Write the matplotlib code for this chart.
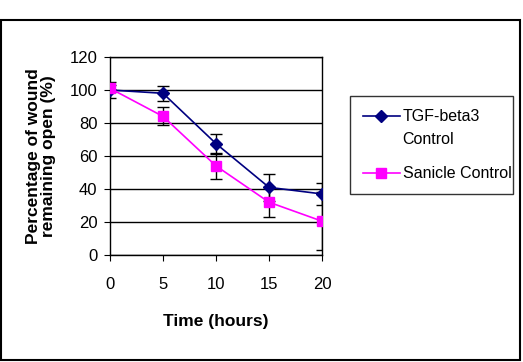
import numpy as np
import matplotlib.pyplot as plt
from matplotlib.patches import Rectangle
from matplotlib.lines import Line2D
from matplotlib.legend_handler import HandlerLine2D
from matplotlib.transforms import Affine2D

plt.rcParams['font.family'] = ['Liberation Sans', 'DejaVu Sans']

# --- data ---
time_h = [0, 5, 10, 15, 20]
tgf_vals = [100, 98, 67.5, 41, 37]
tgf_err = [5, 4.5, 6, 8, 6.5]
sanicle_vals = [101, 84, 54, 32, 20.5]
sanicle_err = [2, 5.5, 8, 9, 17.5]
y_ticks = [0, 20, 40, 60, 80, 100, 120]


class RaisedLine(HandlerLine2D):
    # puts the handle level with the first line of a two-line label
    def __init__(self, dy, **kw):
        super().__init__(**kw)
        self.dy = dy

    def create_artists(self, legend, orig_handle, xdescent, ydescent,
                       width, height, fontsize, trans):
        trans = Affine2D().translate(0, self.dy) + trans
        return super().create_artists(legend, orig_handle, xdescent, ydescent,
                                      width, height, fontsize, trans)


W, H = 523, 362
fig = plt.figure(figsize=(W / 100, H / 100), dpi=100)
ax = fig.add_axes([110/W, 1 - 255/H, 212/W, 198/H])

ax.errorbar(time_h, tgf_vals, yerr=tgf_err, color='#000080', marker='D',
            markersize=6, linewidth=1.2, ecolor='black', elinewidth=1,
            capsize=4, capthick=1, zorder=3)
ax.errorbar(time_h, sanicle_vals, yerr=sanicle_err, color='#ff00ff', marker='s',
            markersize=7, linewidth=1.2, ecolor='black', elinewidth=1,
            capsize=4, capthick=1, zorder=3)

ax.set_xlim(0, 20)
ax.set_ylim(0, 120)
ax.set_xticks(time_h)
ax.set_yticks(y_ticks)
ax.yaxis.grid(True, color='black', linewidth=1)
ax.set_axisbelow(True)
ax.tick_params(labelsize=12, direction='out', length=4, color='black')
ax.tick_params(axis='x', pad=12)
ax.tick_params(axis='y', pad=5)
for s in ax.spines.values():
    s.set_color('black')
    s.set_linewidth(1)

ax.set_xlabel('Time (hours)', fontsize=12.5, fontweight='bold', labelpad=16)
ax.set_ylabel('Percentage of wound\nremaining open (%)', fontsize=12.5,
              fontweight='bold', labelpad=10, linespacing=1.0)

tgf_handle = Line2D([], [], color='#000080', marker='D', markersize=6, linewidth=1.2)
san_handle = Line2D([], [], color='#ff00ff', marker='s', markersize=7, linewidth=1.2)
labels = ['TGF-beta3\nControl', 'Sanicle Control']
leg = fig.legend([tgf_handle, san_handle], labels, loc='upper left',
                 bbox_to_anchor=(350/W, 1 - 214/H, 163/W, 118/H),
                 frameon=True, fancybox=False, edgecolor='black', fontsize=11.5,
                 handlelength=2.3, handletextpad=0.2, borderpad=0.8,
                 labelspacing=1.2, borderaxespad=0, mode='expand',
                 handler_map={tgf_handle: RaisedLine(dy=9)})
leg.get_frame().set_linewidth(1)
leg.get_texts()[0].set_linespacing(1.7)

fig.patches.append(Rectangle((1/W, 2/H), 519/W, 340/H, transform=fig.transFigure,
                             fill=False, edgecolor='black', linewidth=1.5))

fig.savefig('out.png', dpi=100)
